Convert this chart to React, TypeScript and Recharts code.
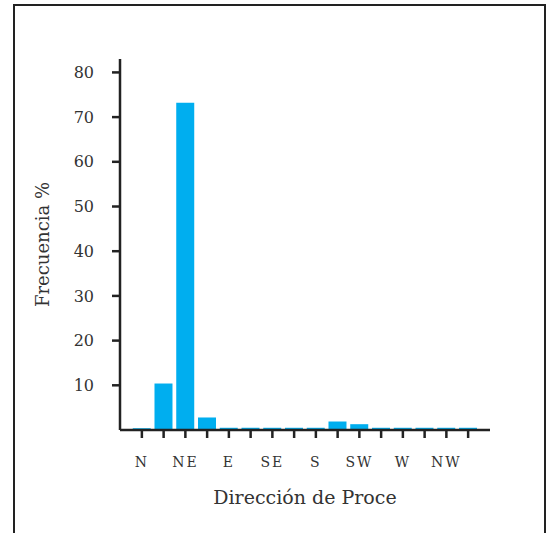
import React from 'react';
import { BarChart, Bar, XAxis, YAxis } from 'recharts';

// wind direction sectors, clockwise from north
const directions = ['N', 'NNE', 'NE', 'ENE', 'E', 'ESE', 'SE', 'SSE', 'S', 'SSW', 'SW', 'WSW', 'W', 'WNW', 'NW', 'NNW'];
const frequency = [0.4, 10.4, 73.2, 2.8, 0.5, 0.5, 0.5, 0.5, 0.5, 1.9, 1.3, 0.5, 0.5, 0.5, 0.5, 0.5];
const yTicks = [10, 20, 30, 40, 50, 60, 70, 80];

const data = directions.map((dir, i) => ({ dir, freq: frequency[i] }));

const ink = '#222222';
const serif = '"DejaVu Serif", "Liberation Serif", serif';

const YLabel = ({ viewBox }: any) => {
  const cx = viewBox.x + 22;
  const cy = viewBox.y + viewBox.height / 2;
  return (
    <text x={cx} y={cy} transform={`rotate(-90, ${cx}, ${cy})`} textAnchor="middle" dominantBaseline="central"
      fill="#333" fontSize={18} fontFamily={serif}>
      Frecuencia %
    </text>
  );
};

const XLabel = ({ viewBox }: any) => (
  <text x={viewBox.x + viewBox.width / 2} y={viewBox.y + 67} textAnchor="middle" dominantBaseline="central"
    fill="#333" fontSize={19} fontFamily={serif}>
    Dirección de Proce
  </text>
);

const App: React.FC = () => {
  return (
    <div style={{ position: 'absolute', left: 0, top: 0, width: 550, height: 533, overflow: 'hidden', background: '#fff' }}>
      <div style={{ position: 'absolute', left: 13, top: 4, width: 529, height: 560, border: `2px solid ${ink}` }} />
      <div style={{ position: 'absolute', left: 0, top: 0 }}>
        <BarChart width={550} height={533} data={data} margin={{ top: 59, right: 60, bottom: 23, left: 20 }} barCategoryGap="8%">
          <XAxis
            dataKey="dir"
            interval={0}
            tickFormatter={(v: string) => (v.length <= 2 ? v : '')}
            tickSize={8}
            tickMargin={19}
            height={80}
            padding={{ left: 11, right: 11 }}
            axisLine={{ stroke: ink, strokeWidth: 2.5 }}
            tickLine={{ stroke: ink, strokeWidth: 2.5 }}
            tick={{ fill: '#333', fontSize: 14, fontFamily: serif, letterSpacing: 2 }}
            label={<XLabel />}
          />
          <YAxis
            domain={[0, 83]}
            ticks={yTicks}
            width={100}
            tickSize={8}
            tickMargin={18}
            axisLine={{ stroke: ink, strokeWidth: 2.5 }}
            tickLine={{ stroke: ink, strokeWidth: 2.5 }}
            tick={{ fill: '#333', fontSize: 16, fontFamily: serif }}
            label={<YLabel />}
          />
          <Bar dataKey="freq" fill="#00AEEF" isAnimationActive={false} />
        </BarChart>
      </div>
    </div>
  );
};

export default App;
